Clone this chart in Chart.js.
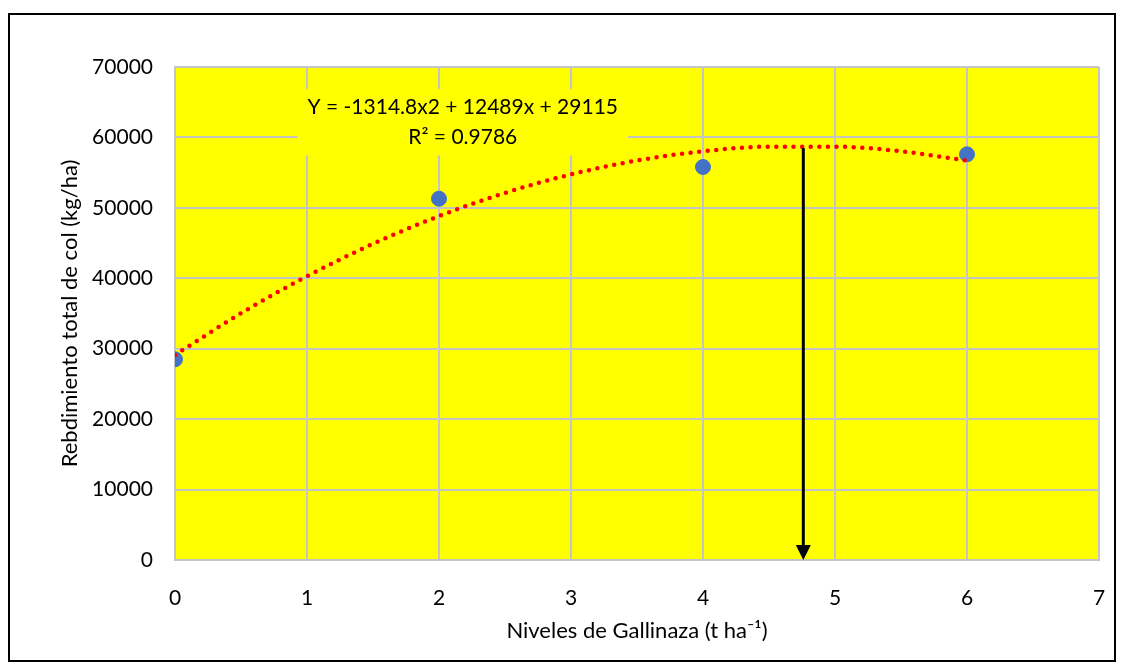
<!DOCTYPE html>
<html>
<head>
<meta charset="utf-8">
<script src="https://cdn.jsdelivr.net/npm/chart.js@4/dist/chart.umd.min.js"></script>
<style>
  html, body { margin:0; padding:0; background:#fff; }
  canvas { display:block; }
</style>
</head>
<body>
<canvas id="chart" width="1124" height="670"></canvas>
<script>
// Datos
const niveles = [0, 2, 4, 6];
const rendimiento = [28500, 51300, 55800, 57600];

// Línea de tendencia polinómica
const trendX = [0, 0.5, 1, 1.5, 2, 2.5, 3, 3.5, 4, 4.5, 5, 5.5, 6];
const trendY = [29115, 35030, 40290, 44890, 48830, 52120, 54750, 56720, 58030, 58690, 58690, 58030, 56720];

// Flecha vertical hacia el eje X
const arrowX = 4.76;
const arrowTop = 58500;
const arrowBottom = 0;

const xTicks = [0, 1, 2, 3, 4, 5, 6, 7];
const yTicks = [0, 10000, 20000, 30000, 40000, 50000, 60000, 70000];

const eqLines = ['Y = -1314.8x2 + 12489x + 29115', 'R² = 0.9786'];

const FONT = 'Lato, "Open Sans", sans-serif';

// Fondo amarillo del área de trazado
const plotBg = {
  id:'plotBg',
  beforeDraw(chart){
    const {ctx, chartArea:a} = chart;
    ctx.save();
    ctx.fillStyle = '#ffff00';
    ctx.fillRect(a.left, a.top, a.right-a.left, a.bottom-a.top);
    ctx.restore();
  }
};

// Cuadro de la ecuación (tapa la cuadrícula)
const eqLabel = {
  id:'eqLabel',
  beforeDatasetsDraw(chart){
    const {ctx, scales:{x, y}} = chart;
    const cx = x.getPixelForValue(2.18);
    const y1 = y.getPixelForValue(64300);
    const y2 = y.getPixelForValue(60000);
    ctx.save();
    ctx.font = '21px ' + FONT;
    const w = ctx.measureText(eqLines[0]).width;
    ctx.fillStyle = '#ffff00';
    ctx.fillRect(cx - w/2 - 10, y1 - 18, w + 20, (y2 - y1) + 36);
    ctx.fillStyle = '#000';
    ctx.textAlign = 'center';
    ctx.textBaseline = 'middle';
    ctx.fillText(eqLines[0], cx, y1);
    ctx.fillText(eqLines[1], cx, y2);
    ctx.restore();
  }
};

// Flecha y marco exterior
const extras = {
  id:'extras',
  afterDraw(chart){
    const {ctx, scales:{x, y}} = chart;
    const px = x.getPixelForValue(arrowX);
    const pt = y.getPixelForValue(arrowTop);
    const pb = y.getPixelForValue(arrowBottom);
    ctx.save();
    ctx.strokeStyle = '#000';
    ctx.fillStyle = '#000';
    ctx.lineWidth = 3;
    ctx.beginPath();
    ctx.moveTo(px, pt);
    ctx.lineTo(px, pb - 12);
    ctx.stroke();
    ctx.beginPath();
    ctx.moveTo(px - 7.5, pb - 15);
    ctx.lineTo(px + 7.5, pb - 15);
    ctx.lineTo(px, pb);
    ctx.closePath();
    ctx.fill();

    ctx.lineWidth = 2;
    ctx.strokeRect(9, 14, 1106, 647);
    ctx.restore();
  }
};

new Chart(document.getElementById('chart'), {
  type:'scatter',
  data:{
    datasets:[
      {
        label:'Tendencia',
        type:'line',
        data: trendX.map((v,i)=>({x:v, y:trendY[i]})),
        borderColor:'#ff0000',
        borderWidth:4.5,
        borderDash:[0, 8.6],
        borderCapStyle:'round',
        pointRadius:0,
        tension:0.4,
        cubicInterpolationMode:'monotone',
        fill:false,
        order:1
      },
      {
        label:'Rendimiento',
        data: niveles.map((v,i)=>({x:v, y:rendimiento[i]})),
        backgroundColor:'#4472c4',
        borderColor:'#4472c4',
        pointRadius:7.5,
        pointHoverRadius:7.5,
        order:2
      }
    ]
  },
  options:{
    responsive:false,
    animation:false,
    layout:{ padding:{ left:0, top:67, right:25, bottom:0 } },
    plugins:{ legend:{ display:false }, tooltip:{ enabled:false } },
    scales:{
      x:{
        type:'linear',
        min:0, max:7,
        afterBuildTicks(s){ s.ticks = xTicks.map(v=>({value:v})); },
        afterFit(s){ s.height = 110; s.paddingLeft = 0; s.paddingRight = 0; },
        grid:{ color:'#c4c4c4', lineWidth:2, drawTicks:false },
        border:{ color:'#c4c4c4', width:2 },
        ticks:{ padding:26, color:'#000', font:{ family:FONT, size:21 },
                callback:v=>String(v) },
        title:{ display:true, text:'Niveles de Gallinaza (t ha⁻¹)', color:'#000',
                font:{ family:FONT, size:22 }, padding:{ top:0, bottom:26 } }
      },
      y:{
        type:'linear',
        min:0, max:70000,
        afterBuildTicks(s){ s.ticks = yTicks.map(v=>({value:v})); },
        afterFit(s){ s.width = 175; s.paddingTop = 0; s.paddingBottom = 0; },
        grid:{ color:'#c4c4c4', lineWidth:2, drawTicks:false },
        border:{ color:'#c4c4c4', width:2 },
        ticks:{ padding:22, color:'#000', font:{ family:FONT, size:21 },
                callback:v=>String(v) },
        title:{ display:true, text:'Rebdimiento total de col (kg/ha)', color:'#000',
                font:{ family:FONT, size:22 }, padding:{ top:57, bottom:0 } }
      }
    }
  },
  plugins:[plotBg, eqLabel, extras]
});
</script>
</body>
</html>
